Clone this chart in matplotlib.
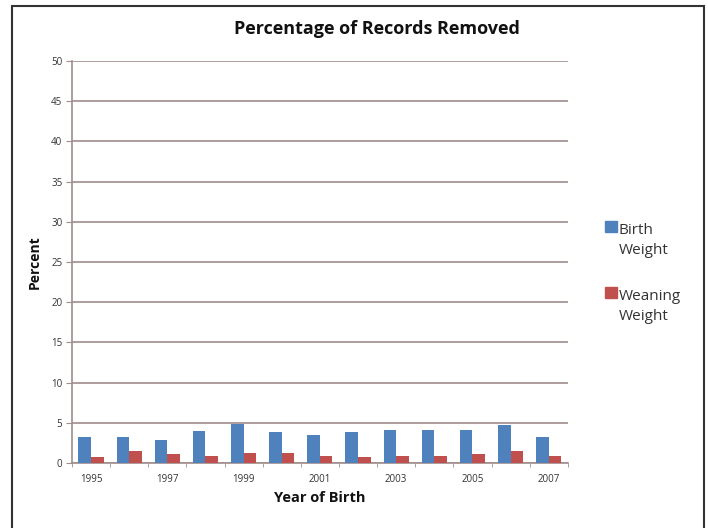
import matplotlib.pyplot as plt
import numpy as np
from matplotlib.patches import Rectangle

years = [1995, 1996, 1997, 1998, 1999, 2000, 2001, 2002, 2003, 2004, 2005, 2006, 2007]
birth_weight = [3.3, 3.2, 2.9, 4.0, 4.9, 3.8, 3.5, 3.8, 4.1, 4.1, 4.1, 4.7, 3.2]
weaning_weight = [0.8, 1.55, 1.1, 0.9, 1.25, 1.25, 0.9, 0.8, 0.9, 0.9, 1.1, 1.55, 0.9]
series_names = ["Birth\nWeight", "Weaning\nWeight"]


def main():
    plt.rcParams['font.family'] = ['Open Sans', 'DejaVu Sans']
    fig = plt.figure(figsize=(7.08, 5.28), dpi=100)
    ax = fig.add_axes([0.1017, 0.123, 0.7003, 0.7615])

    grid_col = '#a08e8c'
    x = np.arange(len(years))
    w = 0.33
    ax.bar(x - w / 2, birth_weight, w, color='#4f81bd', zorder=3)
    ax.bar(x + w / 2, weaning_weight, w, color='#c0504d', zorder=3)

    ax.set_xlim(-0.5, len(years) - 0.5)
    ax.set_ylim(0, 50)
    ax.set_yticks(range(0, 51, 5))
    ax.yaxis.grid(True, color=grid_col, linewidth=1.2, zorder=0)
    ax.set_xticks(x[::2])
    ax.set_xticklabels([str(y) for y in years[::2]])
    ax.set_xticks(np.arange(-0.5, len(years), 1), minor=True)
    ax.tick_params(axis='x', which='major', length=0, pad=8, labelsize=7, labelcolor='#333333')
    ax.tick_params(axis='x', which='minor', length=3, color=grid_col, direction='out')
    ax.tick_params(axis='y', length=4, color=grid_col, labelsize=7, labelcolor='#333333', pad=3)
    for s in ['top', 'right']:
        ax.spines[s].set_visible(False)
    ax.spines['left'].set_color(grid_col)
    ax.spines['bottom'].set_color(grid_col)
    ax.spines['left'].set_linewidth(1.2)
    ax.spines['bottom'].set_linewidth(1.2)

    ax.set_ylabel('Percent', fontsize=10, fontweight='bold', labelpad=7, color='#111111')
    ax.set_xlabel('Year of Birth', fontsize=10.5, fontweight='bold', labelpad=4, color='#111111')
    fig.text(0.532, 0.945, 'Percentage of Records Removed', ha='center', va='center',
             fontsize=13, fontweight='bold', color='#111111')

    # legend drawn by hand, Excel style with wrapped labels
    legend_y = [0.562, 0.437]
    colors = ['#4f81bd', '#c0504d']
    for name, c, ly in zip(series_names, colors, legend_y):
        fig.patches.append(Rectangle((0.855, ly - 0.002), 0.016, 0.021, transform=fig.transFigure,
                                     color=c, figure=fig))
        fig.text(0.874, ly + 0.015, name, ha='left', va='top', fontsize=11,
                 color='#333333', linespacing=1.4)

    # outer frame
    fig.patches.append(Rectangle((12 / 708, -0.05), 692 / 708, 1.05 - 6 / 528, transform=fig.transFigure,
                                 fill=False, edgecolor='#333333', linewidth=1.5, figure=fig))

    fig.savefig('out.png', dpi=100)


if __name__ == "__main__":
    main()
